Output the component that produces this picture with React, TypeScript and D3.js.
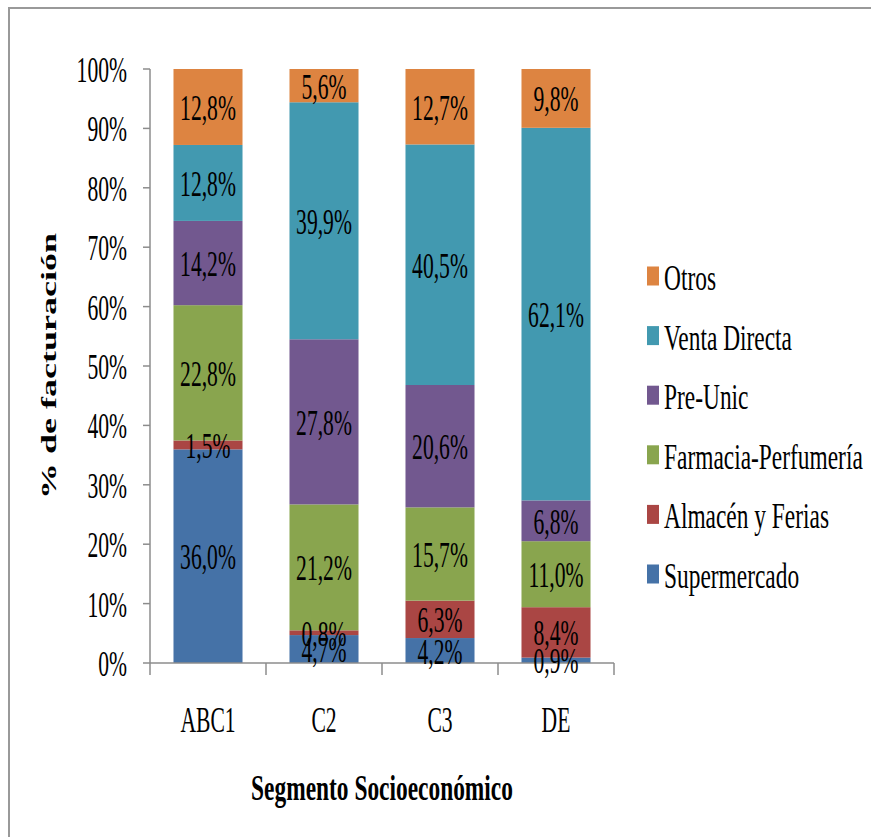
import React from "react";
import * as d3 from "d3";

// Segments along the x axis
const categories = ["ABC1", "C2", "C3", "DE"];

// Channels, bottom to top of each stack
const seriesNames = [
  "Supermercado",
  "Almacén y Ferias",
  "Farmacia-Perfumería",
  "Pre-Unic",
  "Venta Directa",
  "Otros",
];

// Share of sales (%) per channel, one entry per segment
const supermercado = [36.0, 4.7, 4.2, 0.9];
const almacen = [1.5, 0.8, 6.3, 8.4];
const farmacia = [22.8, 21.2, 15.7, 11.0];
const preUnic = [14.2, 27.8, 20.6, 6.8];
const ventaDirecta = [12.8, 39.9, 40.5, 62.1];
const otros = [12.8, 5.6, 12.7, 9.8];

const yTicks = [0, 0.1, 0.2, 0.3, 0.4, 0.5, 0.6, 0.7, 0.8, 0.9, 1.0];

const colors = ["#4572A7", "#AA4644", "#89A54E", "#72588F", "#4299B0", "#DD8441"];

const W = 871;
const H = 837;
const FONT = "Liberation Serif, Times New Roman, Times, serif";
const FS = 36;
const SX = 0.6;
const SX_WIDE = 0.65;

const seriesValues = [supermercado, almacen, farmacia, preUnic, ventaDirecta, otros];

const rows = categories.map((c, i) => {
  const r: Record<string, any> = { cat: c };
  seriesNames.forEach((s, k) => (r[s] = seriesValues[k][i]));
  return r;
});

const fmt = (v: number) => v.toFixed(1).replace(".", ",") + "%";

function T({ x, y, anchor = "middle", bold = false, sx = SX, children }: any) {
  return (
    <text
      transform={`translate(${x},${y}) scale(${sx},1)`}
      textAnchor={anchor}
      style={{ fontFamily: FONT, fontSize: FS, fontWeight: bold ? 700 : 400 }}
      fill="#000"
    >
      {children}
    </text>
  );
}

export default function App() {
  const x = d3.scaleBand<string>().domain(categories).range([150, 614]).paddingInner(0.405).paddingOuter(0.2025);
  const y = d3.scaleLinear().domain([0, 1]).range([663, 69]);

  const stacked = d3
    .stack<Record<string, any>>()
    .keys(seriesNames)
    .offset(d3.stackOffsetExpand)(rows);

  const axisColor = "#8c8c8c";
  const legendY = d3.scalePoint<string>().domain([...seriesNames].reverse()).range([276, 574]);

  return (
    <svg
      width={W}
      height={H}
      style={{ position: "absolute", left: 0, top: 0, display: "block", background: "#fff" }}
    >
      <rect x={9} y={8} width={W} height={H} fill="#fff" stroke="#999" strokeWidth={2} />

      {/* stacked bars */}
      {stacked.map((layer, k) => (
        <g key={layer.key}>
          {layer.map((d, i) => (
            <rect
              key={i}
              x={x(categories[i])}
              width={x.bandwidth()}
              y={y(d[1])}
              height={y(d[0]) - y(d[1])}
              fill={colors[k]}
            />
          ))}
        </g>
      ))}

      {/* y axis */}
      <line x1={150} x2={150} y1={y(1)} y2={y(0)} stroke={axisColor} strokeWidth={1.5} />
      {yTicks.map((t) => (
        <g key={t}>
          <line x1={143} x2={150} y1={y(t)} y2={y(t)} stroke={axisColor} strokeWidth={1.5} />
          <T x={127} y={y(t) + 13} anchor="end">
            {Math.round(t * 100) + "%"}
          </T>
        </g>
      ))}

      {/* x axis */}
      <line x1={150} x2={614} y1={y(0)} y2={y(0)} stroke={axisColor} strokeWidth={1.5} />
      {d3.range(categories.length + 1).map((i) => {
        const xx = 150 + i * x.step();
        return <line key={i} x1={xx} x2={xx} y1={y(0)} y2={y(0) + 12} stroke={axisColor} strokeWidth={1.5} />;
      })}
      {categories.map((c) => (
        <T key={c} x={(x(c) ?? 0) + x.bandwidth() / 2} y={732}>
          {c}
        </T>
      ))}

      {/* data labels */}
      {stacked.map((layer) => (
        <g key={"l" + layer.key}>
          {layer.map((d, i) => (
            <T key={i} x={(x(categories[i]) ?? 0) + x.bandwidth() / 2} y={y((d[0] + d[1]) / 2) + 13}>
              {fmt(d.data[layer.key])}
            </T>
          ))}
        </g>
      ))}

      {/* axis titles */}
      <T x={382} y={800} bold sx={SX_WIDE}>
        Segmento Socioeconómico
      </T>
      <text
        transform={`translate(56,${y(0.5)}) rotate(-90) scale(1,${SX})`}
        textAnchor="middle"
        style={{ fontFamily: FONT, fontSize: FS, fontWeight: 700 }}
        fill="#000"
      >
        % de facturación
      </text>

      {/* legend */}
      {[...seriesNames].reverse().map((s) => {
        const k = seriesNames.indexOf(s);
        const cy = legendY(s) ?? 0;
        return (
          <g key={s}>
            <rect x={647} y={cy - 9.5} width={12} height={19} fill={colors[k]} />
            <T x={664} y={cy + 14} anchor="start" sx={SX_WIDE}>
              {s}
            </T>
          </g>
        );
      })}
    </svg>
  );
}
